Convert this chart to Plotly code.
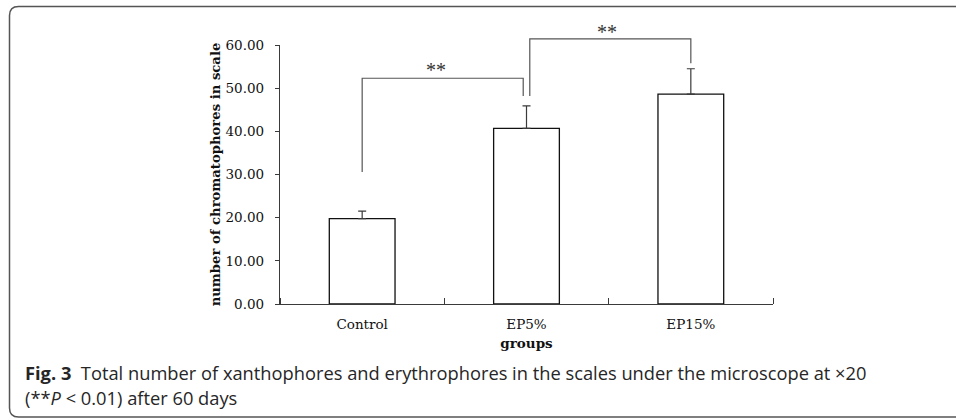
import plotly.graph_objects as go

# ---- data ----
categories = ["Control", "EP5%", "EP15%"]
means = [19.8, 40.7, 48.6]
errors_up = [1.7, 5.2, 5.9]
y_ticks = [0, 10, 20, 30, 40, 50, 60]
y_tick_labels = ["0.00", "10.00", "20.00", "30.00", "40.00", "50.00", "60.00"]
# significance brackets (category index, value)
bracket1_x = [0, 0, 0.98, 0.98]
bracket1_y = [30.6, 52.3, 52.3, 48.2]
bracket2_x = [1.02, 1.02, 2, 2]
bracket2_y = [48.2, 61.4, 61.4, 55.8]
star_labels = ["**", "**"]
star_x = [0.45, 1.49]
star_y = [53.7, 62.6]

W, H = 956, 420
SERIF = "DejaVu Serif, serif"
STAR_FONT = "Liberation Serif, serif"
SANS = "Open Sans, Noto Sans, sans-serif"
AX = "#3a3a3a"

# plot-area geometry (pixels in the 956x420 figure)
X_LEFT, X_RIGHT = 280, 773
Y_ZERO, Y_TOP, Y_OVER = 304, 45, 20
Y_MAX = 60
y2_max = Y_MAX * (Y_ZERO - Y_OVER) / (Y_ZERO - Y_TOP)

fig = go.Figure()
xs = list(range(len(categories)))
fig.add_trace(go.Bar(
    x=xs, y=means, width=0.40,
    marker=dict(color="white", line=dict(color="#111", width=1.3)),
    error_y=dict(type="data", symmetric=False, array=errors_up,
                 arrayminus=[0] * len(means), color=AX, thickness=1.2, width=4),
    showlegend=False, hoverinfo="skip",
))
# brackets and stars on an invisible overlay subplot that extends above the y axis
for bx, by in [(bracket1_x, bracket1_y), (bracket2_x, bracket2_y)]:
    fig.add_trace(go.Scatter(x=bx, y=by, xaxis="x2", yaxis="y2", mode="lines",
                             line=dict(color="#555", width=1.2),
                             showlegend=False, hoverinfo="skip"))
fig.add_trace(go.Scatter(x=star_x, y=star_y, xaxis="x2", yaxis="y2", mode="text",
                         text=star_labels, textposition="middle center",
                         textfont=dict(family=STAR_FONT, size=20, color="#333"),
                         showlegend=False, hoverinfo="skip"))

# frame (rounded rectangle), in paper coordinates
L, T, R, B, r = 9.5, 6.5, 975, 417, 9
def px(x): return x / W
def py(y): return 1 - y / H
path = (f"M {px(L)},{py(T + r)} Q {px(L)},{py(T)} {px(L + r)},{py(T)} "
        f"L {px(R)},{py(T)} L {px(R)},{py(B)} L {px(L + r)},{py(B)} "
        f"Q {px(L)},{py(B)} {px(L)},{py(B - r)} Z")
fig.add_shape(type="path", path=path, xref="paper", yref="paper",
              line=dict(color="#555", width=1.5), fillcolor="rgba(0,0,0,0)")

# caption
fig.add_annotation(
    x=px(23), y=py(372), xref="paper", yref="paper", xanchor="left", yanchor="middle",
    text="<b>Fig. 3</b>  Total number of xanthophores and erythrophores in the scales under the microscope at \u00d720",
    showarrow=False, font=dict(family=SANS, size=18.3, color="#262626"), align="left")
fig.add_annotation(
    x=px(23), y=py(397), xref="paper", yref="paper", xanchor="left", yanchor="middle",
    text="(**<i>P</i> &lt; 0.01) after 60 days",
    showarrow=False, font=dict(family=SANS, size=18.3, color="#262626"), align="left")

xdom = [X_LEFT / W, X_RIGHT / W]
fig.update_layout(
    width=W, height=H, autosize=False,
    margin=dict(l=0, r=0, t=0, b=0, pad=0, autoexpand=False),
    paper_bgcolor="white", plot_bgcolor="rgba(0,0,0,0)",
    xaxis=dict(domain=xdom, range=[-0.5, 2.5], automargin=False,
               tickvals=xs, ticktext=categories, ticks="",
               showline=True, linecolor=AX, linewidth=1.3, showgrid=False, zeroline=False,
               tickfont=dict(family=SERIF, size=13.5, color="#111"),
               ticklabelstandoff=8,
               minor=dict(tickvals=[-0.5, 0.5, 1.5, 2.5], ticks="inside", ticklen=6,
                          tickcolor=AX, tickwidth=1.2, showgrid=False),
               title=dict(text="<b>groups</b>", standoff=7,
                          font=dict(family=SERIF, size=13.5, color="#111"))),
    yaxis=dict(domain=[(H - Y_ZERO) / H, (H - Y_TOP) / H], range=[0, Y_MAX], automargin=False,
               tickvals=y_ticks, ticktext=y_tick_labels, ticks="outside", ticklen=4,
               tickcolor=AX, tickwidth=1.2,
               showline=True, linecolor=AX, linewidth=1.3, showgrid=False, zeroline=False,
               tickfont=dict(family=SERIF, size=13.5, color="#111"),
               ticklabelstandoff=8,
               title=dict(text="<b>number of chromatophores in scale</b>", standoff=1,
                          font=dict(family=SERIF, size=13.2, color="#111"))),
    xaxis2=dict(domain=xdom, range=[-0.5, 2.5], visible=False, anchor="y2", automargin=False),
    yaxis2=dict(domain=[(H - Y_ZERO) / H, (H - Y_OVER) / H], range=[0, y2_max],
                visible=False, anchor="x2", automargin=False),
)
fig.write_html("out.html", config={"displayModeBar": False},
               post_script="document.body.style.margin='0';")
